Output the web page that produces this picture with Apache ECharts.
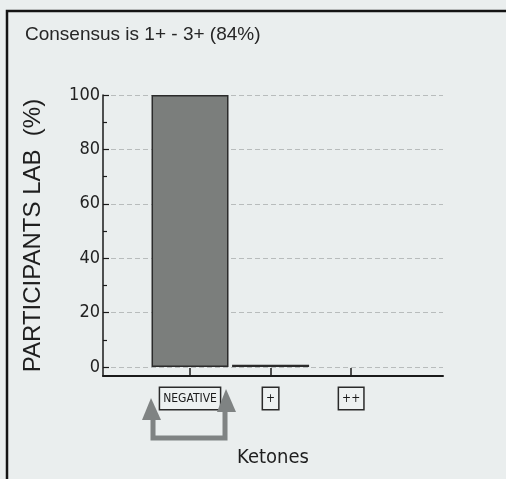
<!DOCTYPE html>
<html><head><meta charset="utf-8">
<script src="https://cdn.jsdelivr.net/npm/echarts@6/dist/echarts.min.js"></script>
<style>html,body{margin:0;padding:0;background:#eaeeee}#c{width:506px;height:479px}</style>
</head><body><div id="c"></div>
<script>
const categories = ['NEGATIVE', '+', '++'];
const values = [100, 0.8, 0];
const yTicks = [0, 20, 40, 60, 80, 100];
const yMinorTicks = [10, 30, 50, 70, 90];
const titleText = 'Consensus is 1+ - 3+ (84%)';
const yName = 'PARTICIPANTS LAB  (%)';
const xName = 'Ketones';

const catPos = categories.map((c, i) => i);
const narrow = "'DejaVu Sans Condensed', sans-serif";
const sans = "'Liberation Sans', Arial, sans-serif";

const chart = echarts.init(document.getElementById('c'));
const option = {
  backgroundColor: '#eaeeee',
  animation: false,
  title: {
    text: titleText, left: 20, top: 20,
    textStyle: { fontFamily: sans, fontSize: 19, fontWeight: 'normal', color: '#262626' }
  },
  grid: { left: 103, right: 63, top: 95, bottom: 103, containLabel: false },
  xAxis: {
    type: 'value', min: -1.08, max: 3.14,
    name: xName, nameLocation: 'middle', nameGap: 72,
    nameTextStyle: { fontFamily: narrow, fontSize: 20, color: '#1e1e1e' },
    axisLine: { show: true, onZero: false, lineStyle: { color: '#1a1a1a', width: 2 } },
    axisTick: { show: true, inside: true, length: 8, customValues: catPos, lineStyle: { color: '#1a1a1a', width: 1.5 } },
    axisLabel: {
      customValues: catPos, margin: 12,
      formatter: v => categories[Math.round(v)],
      fontFamily: narrow, fontSize: 12, color: '#1a1a1a',
      borderColor: '#2a2a2a', borderWidth: 1.5, padding: [5, 3, 4, 3],
      backgroundColor: '#edf1f1'
    },
    splitLine: { show: false }
  },
  yAxis: [{
    type: 'value', min: -3.3, max: 100,
    name: yName, nameLocation: 'middle', nameGap: 58, nameRotate: 90,
    nameTextStyle: { fontFamily: sans, fontSize: 24, color: '#1e1e1e' },
    axisLine: { show: true, onZero: false, lineStyle: { color: '#1a1a1a', width: 1.5 } },
    axisTick: { show: true, inside: true, length: 6, customValues: yTicks, lineStyle: { color: '#1a1a1a', width: 1.2 } },
    axisLabel: { customValues: yTicks, margin: 3, fontFamily: narrow, fontSize: 18, color: '#222' },
    splitLine: { show: true, lineStyle: { color: '#b8bcbc', type: [5, 3], width: 1 } }
  }, {
    type: 'value', min: -3.3, max: 100, position: 'left',
    axisLine: { show: false, onZero: false },
    axisTick: { show: true, inside: true, length: 4, customValues: yMinorTicks, lineStyle: { color: '#1a1a1a', width: 1.2 } },
    axisLabel: { show: false },
    splitLine: { show: false }
  }],
  series: [{
    type: 'bar', barWidth: 77,
    data: values.map((v, i) => ({
      value: [catPos[i], v],
      itemStyle: v > 0 ? {} : { borderWidth: 0, opacity: 0 }
    })),
    itemStyle: { color: '#7b7e7c', borderColor: '#2b2b2b', borderWidth: 1.5 }
  }]
};
chart.setOption(option);

const cx = chart.convertToPixel({ xAxisIndex: 0 }, 0);
const gray = '#7f8383';
chart.setOption({
  graphic: [
    { type: 'rect', shape: { x: 7, y: 11, width: 560, height: 520 }, style: { fill: 'none', stroke: '#141414', lineWidth: 2.5 }, z: 100 },
    { type: 'polyline', shape: { points: [[cx - 37, 418], [cx - 37, 438], [cx + 35, 438], [cx + 35, 410]] }, style: { stroke: gray, lineWidth: 5, fill: 'none' }, z: 100 },
    { type: 'polygon', shape: { points: [[cx - 48, 420], [cx - 39, 398], [cx - 29, 420]] }, style: { fill: gray }, z: 100 },
    { type: 'polygon', shape: { points: [[cx + 27, 412], [cx + 36, 389], [cx + 46, 412]] }, style: { fill: gray }, z: 100 }
  ]
});
</script></body></html>
